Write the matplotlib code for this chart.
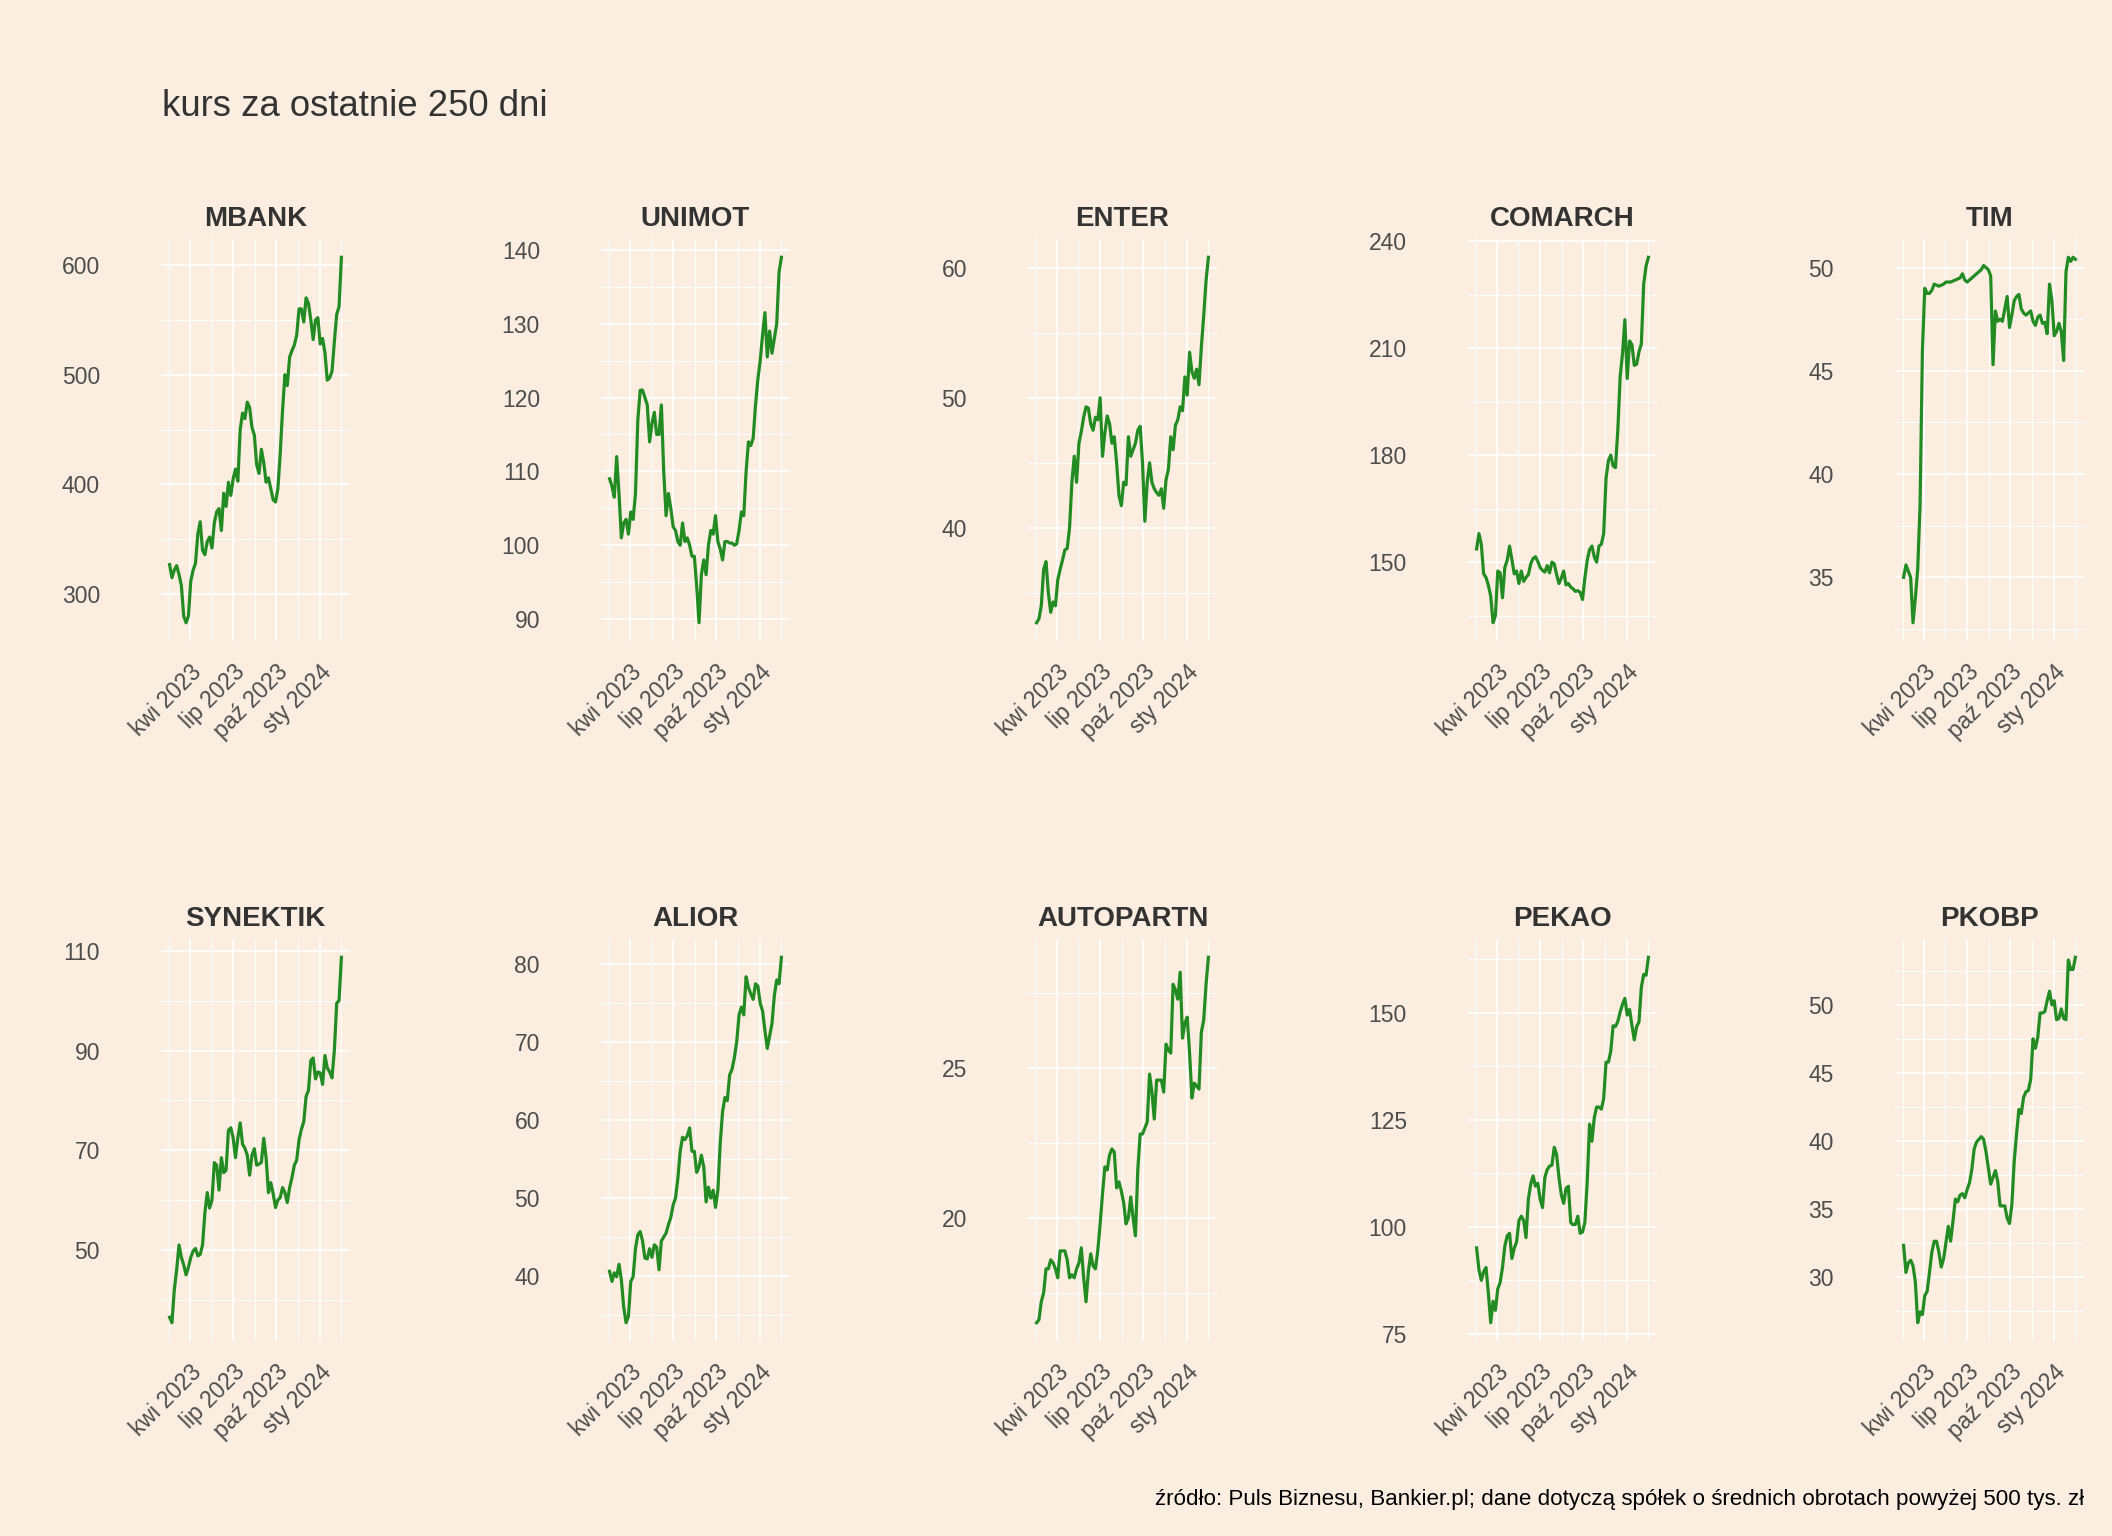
"""
kurs za ostatnie 250 dni - small multiples
"""

import matplotlib
matplotlib.use("Agg")
import matplotlib.pyplot as plt
import matplotlib.dates as mdates
from matplotlib.ticker import MultipleLocator, FixedLocator, FixedFormatter
import pandas as pd

# one reading every 5 days
dates = pd.date_range("2023-02-16", periods=74, freq="5D")

names = ["MBANK", "UNIMOT", "ENTER", "COMARCH", "TIM",
         "SYNEKTIK", "ALIOR", "AUTOPARTN", "PEKAO", "PKOBP"]

mbank = [327, 315, 322, 326, 318, 308, 280, 274, 280, 312,
         322, 328, 355, 366, 340, 336, 348, 352, 342, 365,
         375, 378, 358, 392, 380, 402, 390, 405, 414, 403,
         450, 465, 460, 475, 470, 452, 445, 418, 410, 432,
         420, 402, 406, 396, 386, 384, 396, 428, 468, 500,
         490, 516, 522, 527, 536, 560, 560, 548, 570, 565,
         550, 532, 550, 552, 528, 533, 520, 495, 497, 503,
         530, 555, 562, 607]

unimot = [109, 108, 106.5, 112, 107, 101, 103, 103.5, 101.5, 104.5,
          103.5, 107, 117, 121, 121, 120, 119, 114, 116.5, 118,
          115, 115, 119, 110, 104, 107, 105, 102.5, 102, 100.5,
          100, 103, 100.5, 101, 100, 98.5, 98.5, 94.5, 89.5, 96,
          98, 96, 100, 102, 101.5, 104, 100.5, 99.5, 98, 100.5,
          100.5, 100.3, 100.3, 100, 100.2, 102, 104.5, 104, 110, 114,
          113.5, 114.5, 119, 122.5, 125, 128.5, 131.5, 125.5, 129, 126,
          128, 130, 137, 139]

enter = [32.7, 33.0, 34.0, 36.8, 37.4, 35.0, 33.5, 34.3, 34.0, 36.0,
         36.8, 37.5, 38.3, 38.4, 40.0, 43.5, 45.5, 43.5, 46.5, 47.4,
         48.5, 49.3, 49.2, 48.0, 47.5, 48.5, 48.3, 50.0, 45.5, 47.3,
         48.6, 48.0, 46.5, 47.0, 45.0, 42.5, 41.7, 43.5, 43.3, 47.0,
         45.5, 46.0, 46.5, 47.5, 47.8, 45.0, 40.5, 43.5, 45.0, 43.5,
         43.0, 42.7, 42.5, 43.0, 41.5, 43.7, 44.5, 47.0, 46.0, 47.9,
         48.3, 49.3, 49.0, 51.6, 50.2, 53.5, 52.0, 51.5, 52.2, 51.0,
         53.9, 56.3, 59.0, 60.8]

comarch = [153.7, 158.0, 155.0, 146.7, 145.7, 143.5, 140.5, 133.0, 135.0, 147.5,
           147.0, 140.0, 148.5, 150.5, 154.5, 150.7, 146.7, 147.5, 144.0, 147.5,
           144.6, 145.7, 146.5, 149.5, 151.0, 151.5, 150.2, 148.5, 147.7, 147.2,
           149.0, 147.0, 150.0, 149.5, 146.5, 144.0, 145.5, 147.5, 143.6, 144.0,
           143.0, 142.5, 141.8, 142.0, 141.5, 139.5, 145.5, 150.5, 153.5, 154.5,
           151.5, 150.0, 154.5, 155.0, 158.0, 173.5, 178.5, 180.0, 177.0, 176.5,
           187.0, 202.0, 208.5, 218.0, 201.5, 212.0, 211.0, 205.2, 205.5, 209.0,
           211.2, 228.0, 233.0, 235.5]

tim = [35.0, 35.6, 35.3, 35.0, 32.8, 34.0, 35.4, 38.5, 46.0, 49.0,
       48.75, 48.75, 48.9, 49.2, 49.15, 49.1, 49.15, 49.2, 49.3, 49.3,
       49.3, 49.35, 49.4, 49.45, 49.5, 49.7, 49.4, 49.3, 49.4, 49.5,
       49.6, 49.7, 49.8, 49.9, 50.1, 50.0, 49.9, 49.6, 45.3, 47.9,
       47.4, 47.5, 47.4, 48.0, 48.6, 47.1, 47.7, 48.4, 48.6, 48.7,
       48.0, 47.8, 47.7, 47.8, 47.9, 47.4, 47.2, 47.6, 47.7, 47.3,
       47.35, 46.8, 49.2, 48.4, 46.7, 46.9, 47.3, 46.9, 45.5, 49.8,
       50.5, 50.3, 50.5, 50.4]

synektik = [36.5, 35.4, 42.0, 46.0, 51.0, 48.5, 47.0, 45.0, 46.5, 48.5,
            49.8, 50.3, 48.8, 49.1, 51.0, 57.5, 61.5, 58.4, 60.0, 67.5,
            67.0, 62.0, 68.5, 65.5, 66.0, 74.0, 74.5, 72.5, 68.5, 72.5,
            75.5, 71.2, 70.4, 69.0, 65.0, 69.0, 70.3, 67.0, 67.2, 67.6,
            72.4, 68.5, 61.5, 63.5, 61.3, 58.5, 60.0, 60.5, 62.5, 61.5,
            59.5, 62.5, 64.5, 67.0, 68.0, 72.1, 74.2, 75.7, 80.8, 82.0,
            88.0, 88.5, 84.3, 85.7, 85.5, 83.2, 89.0, 86.5, 85.7, 84.5,
            90.0, 99.5, 100.0, 108.7]

alior = [40.6, 39.3, 40.4, 39.9, 41.5, 39.5, 36.0, 34.0, 34.8, 39.3,
         39.9, 43.5, 45.3, 45.7, 44.5, 42.3, 42.2, 43.5, 42.4, 44.0,
         43.7, 40.8, 44.5, 45.0, 45.5, 46.6, 47.5, 49.1, 50.0, 52.5,
         56.0, 57.8, 57.5, 58.0, 59.0, 56.0, 56.0, 53.3, 54.0, 55.5,
         54.0, 49.5, 51.4, 50.0, 51.0, 48.8, 51.0, 57.0, 61.1, 62.9,
         62.5, 65.8, 66.5, 68.0, 70.0, 73.5, 74.5, 73.5, 78.4, 77.0,
         76.2, 75.5, 77.5, 77.2, 75.0, 74.0, 71.5, 69.2, 70.8, 72.4,
         76.0, 78.0, 77.5, 80.9]

autopartn = [16.5, 16.6, 17.2, 17.5, 18.3, 18.3, 18.6, 18.5, 18.3, 18.0,
             18.9, 18.9, 18.9, 18.6, 18.0, 18.1, 18.0, 18.3, 18.5, 19.0,
             18.0, 17.2, 18.2, 18.8, 18.4, 18.3, 18.9, 19.8, 20.8, 21.7,
             21.6, 22.1, 22.3, 22.2, 21.0, 21.2, 20.9, 20.5, 19.8, 20.0,
             20.7, 20.0, 19.4, 21.6, 22.8, 22.8, 23.0, 23.2, 24.8, 24.2,
             23.3, 24.6, 24.6, 24.6, 24.2, 25.8, 25.6, 25.5, 27.8, 27.6,
             27.3, 28.2, 26.0, 26.5, 26.7, 25.5, 24.0, 24.5, 24.4, 24.3,
             26.2, 26.6, 27.8, 28.7]

pekao = [95.1, 90.0, 87.5, 89.5, 90.5, 84.5, 77.6, 82.6, 80.5, 85.5,
         87.0, 90.5, 95.5, 97.9, 98.5, 92.6, 95.0, 96.5, 101.5, 102.5,
         101.5, 97.5, 106.5, 110.0, 111.9, 109.5, 110.2, 106.5, 104.5, 111.5,
         113.4, 114.2, 114.4, 118.6, 116.9, 111.5, 107.5, 105.5, 109.0, 109.5,
         101.0, 100.5, 100.6, 102.5, 98.5, 98.8, 101.0, 110.5, 124.0, 120.0,
         125.5, 128.0, 128.0, 127.5, 130.0, 138.5, 138.5, 141.0, 147.0, 146.8,
         148.0, 150.2, 152.0, 153.4, 149.5, 150.8, 147.1, 143.7, 146.8, 147.9,
         156.0, 159.0, 158.8, 163.0]

pkobp = [32.3, 30.3, 31.0, 31.2, 30.8, 29.6, 26.6, 27.4, 27.2, 28.6,
         28.9, 30.3, 31.8, 32.6, 32.6, 31.8, 30.7, 31.3, 32.5, 33.7,
         32.6, 34.1, 35.7, 35.5, 36.0, 36.1, 35.8, 36.4, 36.9, 37.9,
         39.4, 39.9, 40.1, 40.3, 40.1, 39.2, 38.0, 36.8, 37.3, 37.8,
         37.0, 35.2, 35.2, 35.2, 34.3, 33.9, 35.3, 38.5, 40.5, 42.3,
         42.0, 43.2, 43.6, 43.7, 44.5, 47.5, 46.8, 47.6, 49.4, 49.4,
         49.5, 50.3, 51.0, 50.0, 50.3, 48.9, 49.0, 49.7, 49.0, 48.9,
         53.3, 52.6, 52.6, 53.5]

series = [mbank, unimot, enter, comarch, tim,
          synektik, alior, autopartn, pekao, pkobp]

# y grid: major step and where the major ticks start
y_steps = [100, 10, 10, 30, 5, 20, 10, 5, 25, 5]
y_offsets = [0, 0, 0, 0, 0, 10, 0, 0, 0, 0]

x_ticks = pd.to_datetime(["2023-04-01", "2023-07-01", "2023-10-01", "2024-01-01"])
x_labels = ["kwi 2023", "lip 2023", "paź 2023", "sty 2024"]
x_minor = pd.to_datetime(["2023-02-14", "2023-05-16", "2023-08-16",
                          "2023-11-16", "2024-02-15"])

title = "kurs za ostatnie 250 dni"
caption = ("źródło: Puls Biznesu, Bankier.pl; dane dotyczą spółek o średnich "
           "obrotach powyżej 500 tys. zł")

BG = "#FBEEE1"
LINE = "#228B22"

plt.rcParams['font.family'] = ['Liberation Sans', 'DejaVu Sans']

W, H = 2112, 1536
fig = plt.figure(figsize=(W / 100, H / 100), dpi=100, facecolor=BG)

col_left = [161, 601, 1028, 1468, 1895]
row_top = [239, 939]
pw, ph = 189, 402

for k, (name, vals) in enumerate(zip(names, series)):
  r, c = divmod(k, 5)
  ax = fig.add_axes([col_left[c] / W, 1 - (row_top[r] + ph) / H, pw / W, ph / H])
  ax.set_facecolor(BG)
  ax.plot(dates, vals, color=LINE, lw=2.3, zorder=3)
  ax.margins(x=0.05, y=0.05)

  ax.xaxis.set_major_locator(FixedLocator(mdates.date2num(x_ticks)))
  ax.xaxis.set_major_formatter(FixedFormatter(x_labels))
  ax.xaxis.set_minor_locator(FixedLocator(mdates.date2num(x_minor)))
  ax.yaxis.set_major_locator(MultipleLocator(y_steps[k], offset=y_offsets[k]))
  ax.yaxis.set_minor_locator(MultipleLocator(y_steps[k] / 2))

  ax.grid(which='major', color='white', lw=1.25)
  ax.grid(which='minor', color='white', lw=0.65)
  ax.set_axisbelow(True)
  for s in ax.spines.values():
    s.set_visible(False)

  ax.tick_params(which='both', length=0)
  ax.tick_params(axis='y', labelsize=16.5, labelcolor='#4D4D4D', pad=44)
  ax.tick_params(axis='x', labelsize=16.5, labelcolor='#4D4D4D', pad=14)
  for lab in ax.get_xticklabels():
    lab.set_rotation(45)
    lab.set_ha('right')
    lab.set_va('top')
    lab.set_rotation_mode('anchor')

  ax.set_title(name, fontsize=20, fontweight='bold', color='#333333', pad=9)

fig.text(162 / W, 1 - 116 / H, title, fontsize=26.3, color='#333333',
         ha='left', va='baseline')
fig.text(2084 / W, 1 - 1505 / H, caption, fontsize=16.1, color='black',
         ha='right', va='baseline')

fig.savefig("out.png", dpi=100, facecolor=BG)
